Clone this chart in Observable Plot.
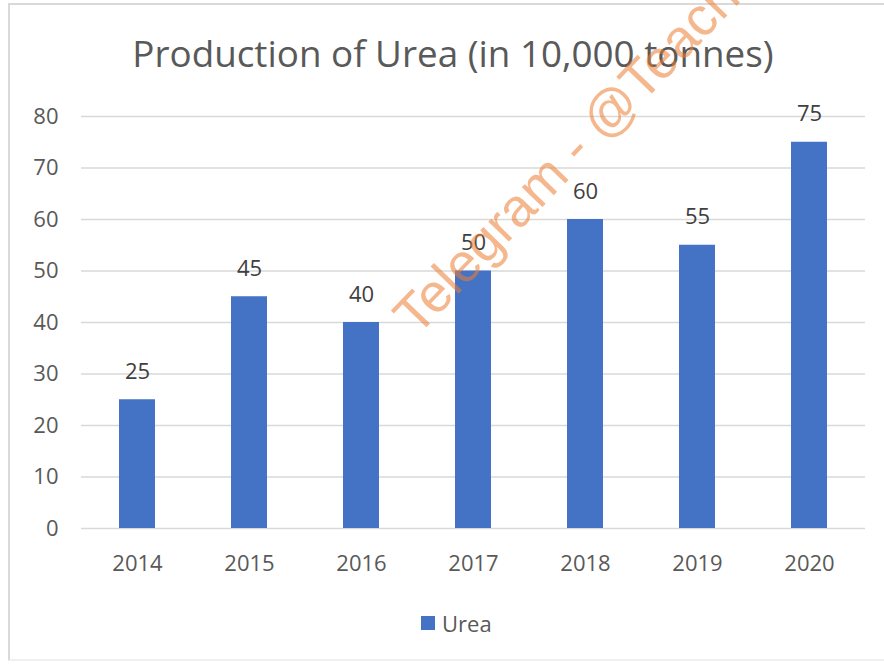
<!DOCTYPE html>
<html>
<head>
<meta charset="utf-8">
<script src="https://cdn.jsdelivr.net/npm/d3@7"></script>
<script src="https://cdn.jsdelivr.net/npm/@observablehq/plot@0.6"></script>
<style>
  html, body { margin: 0; padding: 0; background: #fff; }
  #wrap { position: relative; width: 884px; height: 665px; overflow: hidden; background: #fff; font-family: "Open Sans", sans-serif; }
  #frame { position: absolute; left: 8px; top: 3px; width: 900px; height: 658px; border: 2px solid #d9d9d9; border-bottom-color: #f0f0f0; box-sizing: border-box; }
  #title { position: absolute; left: 453px; top: 35px; transform: translateX(-50%); white-space: nowrap; font-size: 36.8px; line-height: 36.8px; color: #595959; }
  #chart { position: absolute; left: 0; top: 95px; }
  #legend { position: absolute; left: 421px; top: 608px; display: flex; align-items: center; font-size: 22px; color: #595959; line-height: 30px; }
  #legend .sw { width: 14px; height: 14px; background: #4472C4; margin-right: 7px; }
  #wm { position: absolute; left: 403px; top: 324px; transform-origin: 0 0; transform: rotate(-46deg); white-space: nowrap; font-family: "Liberation Sans", sans-serif; font-size: 54px; line-height: 0; color: #ED7D31; opacity: 0.55; pointer-events: none; }
</style>
</head>
<body>
<div id="wrap">
  <div id="frame"></div>
  <div id="title">Production of Urea (in 10,000 tonnes)</div>
  <div id="chart"></div>
  <div id="legend"><div class="sw"></div><span>Urea</span></div>
  <div id="wm">Telegram - @Teach</div>
</div>
<script>
const years = ["2014", "2015", "2016", "2017", "2018", "2019", "2020"];
const urea = [25, 45, 40, 50, 60, 55, 75];
const yTicks = [0, 10, 20, 30, 40, 50, 60, 70, 80];
const seriesName = "Urea";

const data = years.map((y, i) => ({year: y, value: urea[i], series: seriesName}));

const chart = Plot.plot({
  width: 884,
  height: 490,
  marginTop: 21,
  marginBottom: 57,
  marginLeft: 81,
  marginRight: 19,
  style: {fontFamily: "Open Sans, sans-serif", fontSize: "22px", color: "#595959", background: "transparent"},
  x: {domain: years, paddingInner: 0.68, paddingOuter: 0.34, label: null, tickSize: 0, tickPadding: 27},
  y: {domain: [0, 80], ticks: yTicks, label: null, tickSize: 0, tickPadding: 23, tickFormat: d => String(d)},
  marks: [
    Plot.ruleY(yTicks, {stroke: "#d9d9d9", strokeWidth: 1.5}),
    Plot.barY(data, {x: "year", y: "value", fill: "#4472C4"}),
    Plot.text(data, {x: "year", y: "value", text: d => String(d.value), dy: -21, lineAnchor: "bottom", fill: "#404040", fontSize: 22})
  ]
});
document.getElementById("chart").appendChild(chart);
</script>
</body>
</html>
